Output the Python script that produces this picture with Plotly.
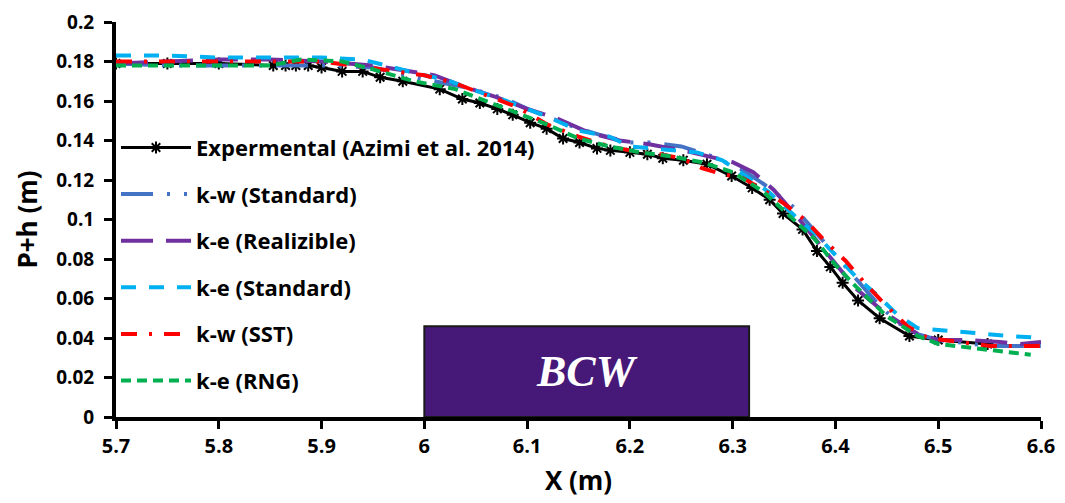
import plotly.graph_objects as go

# ---------------- data ----------------
exp_x = [5.700, 5.750, 5.800, 5.853, 5.865, 5.875, 5.887, 5.900, 5.920, 5.940, 5.957, 5.979,
         6.015, 6.037, 6.054, 6.071, 6.086, 6.103, 6.119, 6.135, 6.151, 6.168, 6.181, 6.200,
         6.217, 6.232, 6.252, 6.275, 6.299, 6.319, 6.336, 6.349, 6.368, 6.382, 6.395, 6.407,
         6.422, 6.443, 6.472, 6.500, 6.548]
exp_y = [0.179, 0.179, 0.179, 0.178, 0.178, 0.178, 0.178, 0.177, 0.175, 0.175, 0.172, 0.170,
         0.166, 0.161, 0.159, 0.156, 0.153, 0.149, 0.146, 0.141, 0.139, 0.136, 0.135, 0.134,
         0.133, 0.131, 0.130, 0.128, 0.122, 0.116, 0.110, 0.103, 0.095, 0.084, 0.076, 0.068,
         0.059, 0.050, 0.041, 0.039, 0.037]

kw_std_x = [5.70, 5.75, 5.80, 5.85, 5.90, 5.95, 6.00, 6.04, 6.08, 6.10, 6.12, 6.145, 6.17, 6.20,
            6.22, 6.25, 6.28, 6.31, 6.33, 6.36, 6.38, 6.40, 6.42, 6.44, 6.46, 6.48, 6.50, 6.52,
            6.55, 6.60]
kw_std_y = [0.179, 0.178, 0.178, 0.178, 0.178, 0.177, 0.171, 0.167, 0.161, 0.156, 0.152, 0.147,
            0.143, 0.139, 0.139, 0.137, 0.132, 0.125, 0.118, 0.106, 0.094, 0.082, 0.070, 0.058,
            0.048, 0.042, 0.039, 0.038, 0.036, 0.036]

ke_real_x = [5.70, 5.75, 5.80, 5.85, 5.90, 5.95, 5.99, 6.01, 6.04, 6.07, 6.10, 6.13, 6.16, 6.19,
             6.22, 6.26, 6.30, 6.32, 6.34, 6.365, 6.39, 6.42, 6.45, 6.48, 6.50, 6.53, 6.56, 6.58,
             6.60]
ke_real_y = [0.179, 0.180, 0.181, 0.181, 0.180, 0.178, 0.175, 0.173, 0.167, 0.162, 0.156, 0.151,
             0.144, 0.140, 0.138, 0.134, 0.129, 0.124, 0.115, 0.100, 0.084, 0.065, 0.052, 0.042,
             0.039, 0.039, 0.038, 0.037, 0.038]

ke_std_x = [5.70, 5.75, 5.80, 5.85, 5.90, 5.94, 6.00, 6.02, 6.04, 6.08, 6.12, 6.15, 6.18, 6.20,
            6.265, 6.29, 6.31, 6.335, 6.36, 6.38, 6.40, 6.42, 6.44, 6.46, 6.48, 6.50, 6.54, 6.57,
            6.60]
ke_std_y = [0.183, 0.183, 0.182, 0.182, 0.182, 0.181, 0.173, 0.171, 0.167, 0.160, 0.152, 0.145,
            0.142, 0.137, 0.134, 0.130, 0.123, 0.114, 0.102, 0.093, 0.082, 0.071, 0.062, 0.052,
            0.045, 0.044, 0.042, 0.041, 0.040]

kw_sst_x = [5.70, 5.75, 5.80, 5.85, 5.90, 5.93, 5.96, 6.00, 6.03, 6.06, 6.09, 6.12, 6.15, 6.18,
            6.21, 6.23, 6.25, 6.27, 6.29, 6.31, 6.33, 6.35, 6.37, 6.39, 6.41, 6.43, 6.45, 6.47,
            6.49, 6.52, 6.55, 6.58, 6.60]
kw_sst_y = [0.180, 0.180, 0.180, 0.180, 0.180, 0.178, 0.176, 0.173, 0.169, 0.163, 0.157, 0.148,
            0.142, 0.137, 0.134, 0.133, 0.131, 0.126, 0.123, 0.121, 0.115, 0.108, 0.100, 0.089,
            0.079, 0.067, 0.056, 0.046, 0.040, 0.038, 0.036, 0.036, 0.036]

ke_rng_x = [5.70, 5.75, 5.80, 5.85, 5.88, 5.92, 5.95, 5.99, 6.03, 6.06, 6.09, 6.12, 6.15, 6.18,
            6.21, 6.24, 6.27, 6.30, 6.33, 6.36, 6.38, 6.40, 6.42, 6.45, 6.48, 6.50, 6.53, 6.56,
            6.59]
ke_rng_y = [0.178, 0.178, 0.178, 0.178, 0.181, 0.180, 0.176, 0.170, 0.166, 0.160, 0.154, 0.148,
            0.141, 0.137, 0.134, 0.132, 0.129, 0.124, 0.114, 0.100, 0.090, 0.077, 0.066, 0.051,
            0.041, 0.037, 0.035, 0.033, 0.0315]

x_ticks = [5.7, 5.8, 5.9, 6.0, 6.1, 6.2, 6.3, 6.4, 6.5, 6.6]
bcw_x0, bcw_x1, bcw_top = 6.0, 6.316, 0.046

# ---------------- figure ----------------
FONT = "Open Sans"
fig = go.Figure()

series = [
    ("Expermental (Azimi et al. 2014)", exp_x, exp_y, "#000000", "solid", True),
    ("k-w (Standard)", kw_std_x, kw_std_y, "#4472C4", "32px,14px,3px,14px,3px,14px", False),
    ("k-e (Realizible)", ke_real_x, ke_real_y, "#7030A0", "32px,13px", False),
    ("k-e (Standard)", ke_std_x, ke_std_y, "#00B0F0", "15px,13px", False),
    ("k-w (SST)", kw_sst_x, kw_sst_y, "#FF0000", "16px,12px,3px,12px", False),
    ("k-e (RNG)", ke_rng_x, ke_rng_y, "#00B050", "10px,6px", False),
]

for i, (name, xs, ys, col, dash, mk) in enumerate(series):
    if mk:
        fig.add_trace(go.Scatter(
            x=xs, y=ys, name=name, mode="lines+markers", legendgroup=f"g{i}",
            line=dict(color=col, width=3),
            marker=dict(symbol="asterisk-open", size=10, color=col,
                        line=dict(color=col, width=2)),
        ))
    else:
        fig.add_trace(go.Scatter(
            x=xs, y=ys, name=name, mode="lines", legendgroup=f"g{i}",
            line=dict(color=col, width=4, dash=dash),
        ))

fig.add_shape(type="rect", xref="x", yref="y", x0=bcw_x0, x1=bcw_x1, y0=0, y1=bcw_top,
              fillcolor="#461878", line=dict(color="#1a1a1a", width=2), layer="above")
fig.add_annotation(x=(bcw_x0 + bcw_x1) / 2, y=bcw_top / 2, xref="x", yref="y",
                   text="<b><i>BCW</i></b>", showarrow=False,
                   font=dict(family="Liberation Serif", size=44, color="white"))

# the page body adds an 8px offset; margins compensate for it
fig.update_layout(
    width=1065, height=503,
    margin=dict(l=108, r=32, t=14, b=94),
    paper_bgcolor="white", plot_bgcolor="white",
    font=dict(family=FONT, color="#000000"),
    showlegend=True,
    legend=dict(x=0.0, y=0.735, xanchor="left", yanchor="top",
                bgcolor="rgba(0,0,0,0)", font=dict(family=FONT, size=22, weight="bold"),
                itemwidth=70, tracegroupgap=15),
)

fig.update_xaxes(
    range=[5.7, 6.6], tickvals=x_ticks, showgrid=False, zeroline=False,
    showline=True, linecolor="black", linewidth=4, mirror=False, automargin=False,
    ticks="outside", ticklen=8, tickwidth=3, tickcolor="black", ticklabeloverflow="allow",
    tickfont=dict(family=FONT, size=20, weight="bold"),
    title=dict(text="<b>X (m)</b>", font=dict(family=FONT, size=26)),
)
fig.update_yaxes(
    range=[0, 0.2], dtick=0.02, showgrid=False, zeroline=False,
    showline=True, linecolor="black", linewidth=4, mirror=False, automargin=False,
    ticks="outside", ticklen=8, tickwidth=3, tickcolor="black", ticklabelstandoff=6,
    ticklabeloverflow="allow",
    tickfont=dict(family=FONT, size=19, weight="bold"),
    title=dict(text="<b>P+h (m)</b>", font=dict(family=FONT, size=26), standoff=12),
)

fig.write_html("out.html")
